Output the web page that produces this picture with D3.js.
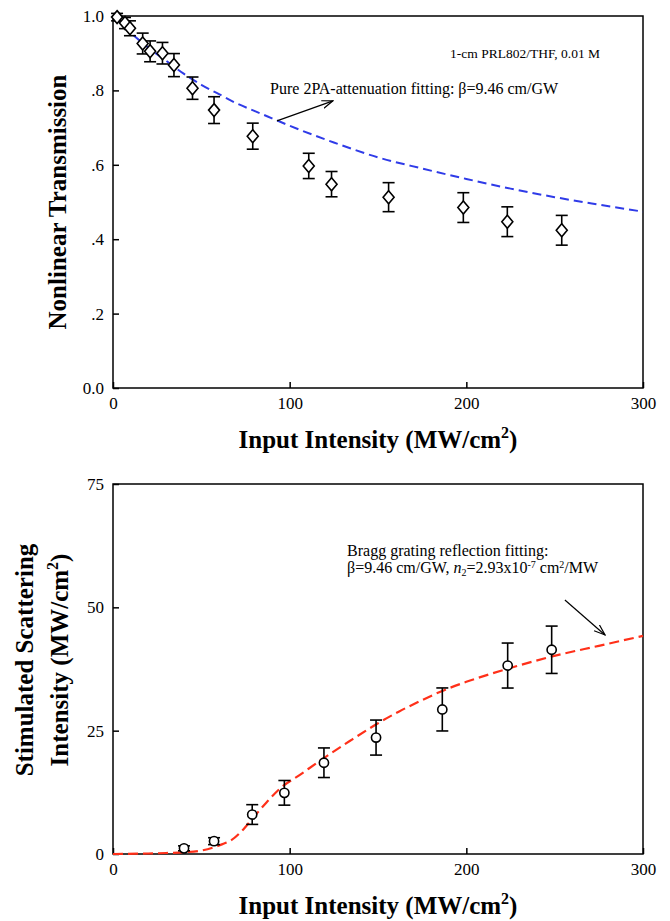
<!DOCTYPE html>
<html>
<head>
<meta charset="utf-8">
<script src="https://cdn.jsdelivr.net/npm/d3@7"></script>
<style>
  body { margin: 0; background: #fff; }
  svg, svg text { font-family: "Liberation Serif", "Times New Roman", serif; }
</style>
</head>
<body>
<svg id="chart" width="670" height="921"></svg>
<script>
// Nonlinear transmission (top) and stimulated scattering (bottom) vs input intensity

// shared x axis
const intensityTicks = [0, 100, 200, 300];

// top panel: measured transmission with error bars
const transIntensity = [2.3, 6.8, 9.6, 16.8, 21, 28, 34.5, 45, 57.2, 79.1, 110.8, 123.7, 156, 198.3, 223.2, 254];
const transValue = [0.997, 0.981, 0.967, 0.926, 0.905, 0.90, 0.868, 0.806, 0.747, 0.677, 0.597, 0.548, 0.513, 0.485, 0.447, 0.424];
const transError = [0.01, 0.015, 0.02, 0.028, 0.028, 0.029, 0.031, 0.03, 0.036, 0.035, 0.034, 0.034, 0.039, 0.04, 0.04, 0.04];
const transTicks = [0, 0.2, 0.4, 0.6, 0.8, 1.0];

// top panel: 2PA fitting curve
const fitIntensity = [0, 10, 20, 30, 40, 50, 60, 70, 80, 90, 100, 125, 150, 175, 200, 225, 250, 275, 300];
const fitTrans = [1.0, 0.955, 0.915, 0.88, 0.845, 0.815, 0.79, 0.765, 0.745, 0.725, 0.705, 0.66, 0.62, 0.59, 0.562, 0.536, 0.513, 0.493, 0.474];

// bottom panel: measured scattering intensity with error bars
const scatIntensity = [40.2, 57.2, 78.8, 97, 119.4, 148.9, 186.4, 223.4, 248.3];
const scatValue = [1.15, 2.6, 8.0, 12.4, 18.5, 23.6, 29.3, 38.2, 41.4];
const scatError = [0.5, 0.7, 2.0, 2.5, 3.0, 3.55, 4.36, 4.56, 4.8];
const scatTicks = [0, 25, 50, 75];

// bottom panel: Bragg grating fitting curve
const braggIntensity = [0, 20, 30, 40, 50, 57, 62, 67, 73, 79, 87, 94, 106, 120, 134, 150, 162, 175, 186, 200, 223, 248, 275, 300];
const braggValue = [0, 0.1, 0.2, 0.35, 0.7, 1.35, 2.0, 2.8, 4.7, 7.2, 10.5, 13.1, 16.1, 19.6, 22.9, 26.5, 28.9, 31.2, 33.0, 34.9, 37.5, 40.0, 42.2, 44.2];

const FONT = '"Liberation Serif", "Times New Roman", serif';
const svg = d3.select('#chart').attr('font-family', FONT);

// open arrowhead for the annotation pointers
svg.append('defs').append('marker')
    .attr('id', 'arrow')
    .attr('viewBox', '0 -5 12 10')
    .attr('refX', 11)
    .attr('refY', 0)
    .attr('markerWidth', 12)
    .attr('markerHeight', 10)
    .attr('markerUnits', 'userSpaceOnUse')
    .attr('orient', 'auto')
    .append('path')
    .attr('d', 'M0,-4L11,0L0,4')
    .attr('fill', 'none')
    .attr('stroke', '#000')
    .attr('stroke-width', 1.2);

// Draw one framed panel and return its group and scales
function drawPanel(top, height, yMax, yTicks, yFormat) {
    const left = 113, width = 530;
    const g = svg.append('g').attr('transform', `translate(${left},${top})`);

    const x = d3.scaleLinear().domain([0, 300]).range([0, width]);
    const y = d3.scaleLinear().domain([0, yMax]).range([height, 0]);

    const xAxis = g.append('g')
        .attr('transform', `translate(0,${height})`)
        .call(d3.axisBottom(x).tickValues(intensityTicks).tickSizeInner(-6).tickSizeOuter(0).tickPadding(9));
    const yAxis = g.append('g')
        .call(d3.axisLeft(y).tickValues(yTicks).tickFormat(yFormat).tickSizeInner(-6).tickSizeOuter(0).tickPadding(9));

    [xAxis, yAxis].forEach(a => {
        a.attr('font-family', FONT).attr('font-size', 17);
        a.select('.domain').remove();
        a.selectAll('line').attr('stroke', '#000').attr('stroke-width', 1.5);
        a.selectAll('text').attr('fill', '#000');
    });

    g.append('rect')
        .attr('width', width)
        .attr('height', height)
        .attr('fill', 'none')
        .attr('stroke', '#000')
        .attr('stroke-width', 1.5);

    // x axis title with superscript
    const xt = svg.append('text')
        .attr('x', left + width / 2)
        .attr('y', top + height + 60)
        .attr('text-anchor', 'middle')
        .style('font-size', '25px')
        .style('font-weight', 'bold');
    xt.append('tspan').text('Input Intensity (MW/cm');
    xt.append('tspan').text('2').attr('dy', -10).style('font-size', '16px');
    xt.append('tspan').text(')').attr('dy', 10);

    return { g, x, y };
}

// error bars: vertical line plus caps
function drawErrorBars(g, x, y, xs, vs, es) {
    const idx = d3.range(xs.length);
    const bars = g.append('g').attr('stroke', '#000').attr('stroke-width', 1.6);
    bars.selectAll('.err').data(idx).enter().append('line')
        .attr('x1', i => x(xs[i])).attr('x2', i => x(xs[i]))
        .attr('y1', i => y(vs[i] - es[i])).attr('y2', i => y(vs[i] + es[i]));
    bars.selectAll('.capTop').data(idx).enter().append('line')
        .attr('x1', i => x(xs[i]) - 6).attr('x2', i => x(xs[i]) + 6)
        .attr('y1', i => y(vs[i] + es[i])).attr('y2', i => y(vs[i] + es[i]));
    bars.selectAll('.capBot').data(idx).enter().append('line')
        .attr('x1', i => x(xs[i]) - 6).attr('x2', i => x(xs[i]) + 6)
        .attr('y1', i => y(vs[i] - es[i])).attr('y2', i => y(vs[i] - es[i]));
}

// ---------- top panel ----------
const topPanel = drawPanel(16, 372, 1.0, transTicks,
    d => (d === 0 || d === 1) ? d.toFixed(1) : d.toFixed(1).replace(/^0/, ''));

topPanel.g.append('path')
    .datum(d3.range(fitIntensity.length))
    .attr('d', d3.line()
        .x(i => topPanel.x(fitIntensity[i]))
        .y(i => topPanel.y(fitTrans[i]))
        .curve(d3.curveMonotoneX))
    .attr('fill', 'none')
    .attr('stroke', '#2f3be8')
    .attr('stroke-width', 2)
    .attr('stroke-dasharray', '9,5');

drawErrorBars(topPanel.g, topPanel.x, topPanel.y, transIntensity, transValue, transError);

topPanel.g.selectAll('.diamond')
    .data(d3.range(transIntensity.length))
    .enter()
    .append('path')
    .attr('class', 'diamond')
    .attr('transform', i => `translate(${topPanel.x(transIntensity[i])},${topPanel.y(transValue[i])})`)
    .attr('d', 'M0,-6.5L5.5,0L0,6.5L-5.5,0Z')
    .attr('fill', '#fff')
    .attr('stroke', '#000')
    .attr('stroke-width', 1.6);

// annotations
topPanel.g.append('text')
    .attr('x', topPanel.x(190.8))
    .attr('y', topPanel.y(0.887))
    .style('font-size', '13.5px')
    .text('1-cm PRL802/THF, 0.01 M');

topPanel.g.append('text')
    .attr('x', topPanel.x(88.9))
    .attr('y', topPanel.y(0.79))
    .style('font-size', '16px')
    .text('Pure 2PA-attenuation fitting: β=9.46 cm/GW');

topPanel.g.append('line')
    .attr('x1', topPanel.x(92.8)).attr('y1', topPanel.y(0.718))
    .attr('x2', topPanel.x(124.5)).attr('y2', topPanel.y(0.772))
    .attr('stroke', '#000')
    .attr('stroke-width', 1.2)
    .attr('marker-end', 'url(#arrow)');

svg.append('text')
    .attr('transform', 'translate(66,202) rotate(-90)')
    .attr('text-anchor', 'middle')
    .style('font-size', '25px')
    .style('font-weight', 'bold')
    .text('Nonlinear Transmission');

// ---------- bottom panel ----------
const botPanel = drawPanel(484, 370, 75, scatTicks, d3.format('d'));

botPanel.g.append('path')
    .datum(d3.range(braggIntensity.length))
    .attr('d', d3.line()
        .x(i => botPanel.x(braggIntensity[i]))
        .y(i => botPanel.y(braggValue[i]))
        .curve(d3.curveMonotoneX))
    .attr('fill', 'none')
    .attr('stroke', '#ff3019')
    .attr('stroke-width', 2.2)
    .attr('stroke-dasharray', '10,5');

drawErrorBars(botPanel.g, botPanel.x, botPanel.y, scatIntensity, scatValue, scatError);

botPanel.g.selectAll('.dot')
    .data(d3.range(scatIntensity.length))
    .enter()
    .append('circle')
    .attr('class', 'dot')
    .attr('cx', i => botPanel.x(scatIntensity[i]))
    .attr('cy', i => botPanel.y(scatValue[i]))
    .attr('r', 4.6)
    .attr('fill', '#fff')
    .attr('stroke', '#000')
    .attr('stroke-width', 1.6);

botPanel.g.append('text')
    .attr('x', botPanel.x(132.5))
    .attr('y', botPanel.y(60.4))
    .style('font-size', '16px')
    .text('Bragg grating reflection fitting:');

const note2 = botPanel.g.append('text')
    .attr('x', botPanel.x(132.5))
    .attr('y', botPanel.y(57.0))
    .attr('xml:space', 'preserve')
    .style('font-size', '16px');
note2.append('tspan').text('β=9.46 cm/GW, ');
note2.append('tspan').text('n').style('font-style', 'italic');
note2.append('tspan').text('2').attr('dy', 3).style('font-size', '10px');
note2.append('tspan').text('=2.93x10').attr('dy', -3);
note2.append('tspan').text('-7').attr('dy', -5).style('font-size', '10px');
note2.append('tspan').text('\u00a0cm').attr('dy', 5);
note2.append('tspan').text('2').attr('dy', -5).style('font-size', '10px');
note2.append('tspan').text('/MW').attr('dy', 5);

botPanel.g.append('line')
    .attr('x1', botPanel.x(255.8)).attr('y1', botPanel.y(51.5))
    .attr('x2', botPanel.x(278.5)).attr('y2', botPanel.y(44.4))
    .attr('stroke', '#000')
    .attr('stroke-width', 1.2)
    .attr('marker-end', 'url(#arrow)');

svg.append('text')
    .attr('transform', 'translate(33,660) rotate(-90)')
    .attr('text-anchor', 'middle')
    .style('font-size', '25px')
    .style('font-weight', 'bold')
    .text('Stimulated Scattering');

const yt2 = svg.append('text')
    .attr('transform', 'translate(68,660) rotate(-90)')
    .attr('text-anchor', 'middle')
    .style('font-size', '25px')
    .style('font-weight', 'bold');
yt2.append('tspan').text('Intensity (MW/cm');
yt2.append('tspan').text('2').attr('dy', -10).style('font-size', '16px');
yt2.append('tspan').text(')').attr('dy', 10);
</script>
</body>
</html>
